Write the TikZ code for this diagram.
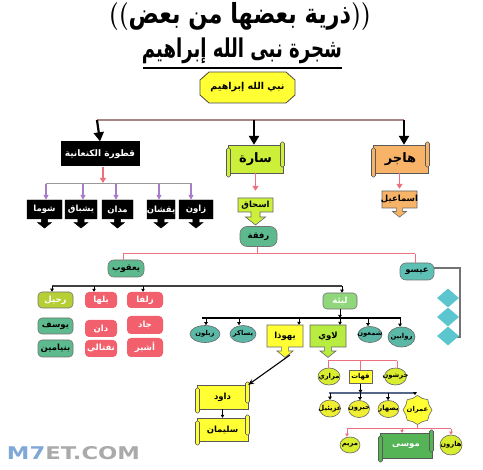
\documentclass[tikz,border=0pt]{standalone}
\usepackage{fontspec}
\usepackage{graphicx}
\usetikzlibrary{shapes.misc,shapes.geometric,arrows.meta,calc}
\TeXXeTstate=1
\newfontfamily\arabicfont[Script=Arabic]{DejaVu Sans}
\newfontfamily\wmfont{DejaVu Sans}
\newcommand{\artx}[1]{{\arabicfont\beginR #1\endR}}
\definecolor{ibyellow}{HTML}{FFFF33}
\definecolor{sarahg}{HTML}{CCF03A}
\definecolor{hagaro}{HTML}{F7B468}
\definecolor{tealg}{HTML}{5DB98E}
\definecolor{esaut}{HTML}{5EC0B5}
\definecolor{pinkb}{HTML}{F2606E}
\definecolor{rachelg}{HTML}{B5CF35}
\definecolor{leahg}{HTML}{8FD77A}
\definecolor{sonst}{HTML}{5BB8A6}
\definecolor{levig}{HTML}{B8EC40}
\definecolor{yelg}{HTML}{D8EC30}
\definecolor{yelb}{HTML}{EEEE33}
\definecolor{mosesg}{HTML}{55B455}
\definecolor{diam}{HTML}{5BC6CF}
\definecolor{pinkl}{HTML}{EE7080}
\definecolor{purp}{HTML}{A87CC8}
\definecolor{topbus}{HTML}{A88484}
\definecolor{kohbus}{HTML}{556688}
\newcommand{\calloutbox}[9]{%
 \draw[#6] (#2,#3) ++({-(#4)/2},{-(#5)/2}) -- ++(#4,0) -- ++(0,#5) -- ++({-(#4)/2+0.45*(#9)},0) -- ++(0,{0.5*(#9)}) -- ++({0.55*(#9)},0) -- ++({-(#9)},{0.8*(#9)}) -- ++({-(#9)},{-0.8*(#9)}) -- ++({0.55*(#9)},0) -- ++(0,{-0.5*(#9)}) -- ++({-(#4)/2+0.45*(#9)},0) -- cycle;
 \node[#7, minimum width=#4, minimum height=#5] (#1) at (#2,#3) {\artx{#8}};
}
\newcommand{\scrollbox}[8]{%
 \draw[scrollst, fill=#6] (#2,#3) ++({-(#4)/2},{-(#5)/2}) rectangle ++(#4,#5);
 \draw[scrollst, fill=#6, rounded corners=1.5pt] (#2,#3) ++({-(#4)/2-1.5},{-(#5)/2+3}) rectangle ++(4,{#5+1});
 \draw[scrollst, fill=#6, rounded corners=1.5pt] (#2,#3) ++({(#4)/2-2.5},{-(#5)/2-3}) rectangle ++(4,{#5-3});
 \node[#7, minimum width=#4, minimum height=#5] (#1) at (#2,#3) {\artx{#8}};
}
\newcommand{\ovalnode}[7]{% name,x,y,w,h,fill,text
 \node[ellipse, draw=black!60, line width=0.6, fill=#6, minimum width=#4, minimum height=#5, inner sep=0] (#1) at (#2,#3) {};
 \node[smalllab] (#1-t) at (#1.center) {\artx{#7}};
}
\newcommand{\dropto}[4]{% style, x, ybus, node
 \coordinate (tmpdrop) at (#2,#3);
 \draw[#1] (tmpdrop) -- (tmpdrop |- #4.north);
}
\tikzset{
 lab/.style={inner sep=0, font=\fontsize{8.5}{9}\selectfont\bfseries},
 smalllab/.style={inner sep=0, font=\fontsize{6.8}{8}\selectfont\bfseries},
 biglab/.style={inner sep=0, font=\fontsize{13}{14}\selectfont\bfseries},
 scrollst/.style={draw=black!65, line width=0.6},
 rbox/.style={lab, rounded corners=4pt, draw=black!55, line width=0.6},
 pinkbox/.style={lab, rounded corners=4pt, fill=pinkb, text=white},
 bigarrow/.style={line width=2.2, -{Triangle[width=10pt,length=9pt]}},
 pinkarrow/.style={pinkl, line width=1.6, -{Triangle[width=6pt,length=5pt]}},
 purparrow/.style={purp, line width=1.2, -{Triangle[width=5pt,length=5pt]}},
 pinkline/.style={pinkl, line width=1},
 smallarrow/.style={line width=0.7, -{Triangle[width=3.5pt,length=3pt]}},
 pinksmall/.style={pinkl, line width=1, -{Triangle[width=3.5pt,length=3pt]}},
}
\begin{document}
\begin{tikzpicture}[x=1pt,y=-1pt]
\useasboundingbox (0,0) rectangle (483,470);
\fill[white] (0,0) rectangle (483,470);
% titles
\node[inner sep=0] (t1) at (240,16.5) {\resizebox*{262pt}{28pt}{\fontsize{24}{24}\selectfont\bfseries((\artx{ذرية بعضها من بعض}))}};
\node[inner sep=0] (t2) at (242,51) {\resizebox*{200pt}{26pt}{\fontsize{22}{22}\selectfont\bfseries\artx{شجرة نبى الله إبراهيم}}};
\coordinate (ulL) at (143,68);
\coordinate (ulR) at (342,68);
\draw[line width=1.6] (ulL) -- (ulR);
% Ibrahim
\draw[draw=black!70, line width=0.8, fill=ibyellow] (209,72) -- (286,72) -- (295,80) -- (295,95) -- (286,103) -- (209,103) -- (200,95) -- (200,80) -- cycle;
\node[inner sep=0, minimum width=95, minimum height=31, font=\fontsize{9.5}{10}\selectfont\bfseries] (ibr) at (247.5,87.5) {\artx{نبي الله إبراهيم}};
% top bus
\coordinate (bk) at (97,120);
\coordinate (bs) at (254,120);
\coordinate (bh) at (404,120);
\draw[topbus, line width=1.3] (bk) -- (bh);
% wives
\node[lab, fill=black, text=white, minimum width=79, minimum height=25, font=\fontsize{9}{10}\selectfont\bfseries] (ket) at (100,154) {\artx{قطورة الكنعانية}};
\scrollbox{sarah}{255.5}{159}{55}{28}{sarahg}{biglab}{سارة}
\scrollbox{hagar}{400.5}{159}{55}{28}{hagaro}{biglab}{هاجر}
\draw[bigarrow] (bk) -- (ket.north);
\draw[bigarrow] (bs) -- (bs |- sarah.north);
\draw[bigarrow] (bh) -- (bh |- hagar.north);
% Keturah children
\coordinate (kb) at (103,183);
\coordinate (kL) at (46,184);
\coordinate (kR) at (192,184);
\draw[pinkarrow] (ket.south -| kb) -- (kb);
\draw[black!40, line width=1] (kL) -- (kR);
\calloutbox{k1}{44.5}{209.5}{35}{19}{fill=black}{lab, text=white}{شوما}{7}
\calloutbox{k2}{81}{209.5}{32}{19}{fill=black}{lab, text=white}{يشباق}{7}
\calloutbox{k3}{117.5}{209.5}{31}{19}{fill=black}{lab, text=white}{مدان}{7}
\calloutbox{k4}{161}{209.5}{28}{19}{fill=black}{lab, text=white}{يقشان}{7}
\calloutbox{k5}{196}{209.5}{34}{19}{fill=black}{lab, text=white}{زاون}{7}
\foreach \n/\xx in {k1/46,k2/83,k3/116,k4/159,k5/191}{
 \dropto{purparrow}{\xx}{184}{\n}
}
% Isaac, Ishmael
\calloutbox{isaac}{255.5}{205}{35}{14}{fill=sarahg, draw=black!60, line width=0.6}{lab}{اسحاق}{10}
\calloutbox{ishm}{399.5}{199.5}{35}{17}{fill=hagaro, draw=black!60, line width=0.6}{lab}{اسماعيل}{7}
\draw[pinkarrow, shorten >=7pt] (sarah.south) -- (isaac.north);
\draw[pinkarrow, shorten >=2pt] (hagar.south -| ishm.north) -- (ishm.north);
\node[rbox, fill=tealg, minimum width=37, minimum height=20, rounded corners=7pt] (reb) at (258.5,236.5) {\artx{رفقة}};
% Rebecca children
\coordinate (rb) at (257,254);
\coordinate (rbL) at (123,254);
\coordinate (rbR) at (415,254);
\draw[pinkline] (reb.south -| rb) -- (rb);
\draw[pinkline] (rbL) -- (rbR);
\node[rbox, fill=tealg, minimum width=36, minimum height=17, rounded corners=6pt] (jacob) at (126,268.5) {\artx{يعقوب}};
\node[rbox, fill=esaut, minimum width=34, minimum height=17, rounded corners=6pt] (esau) at (417,271.5) {\artx{عيسو}};
\draw[pinkline] (rbL) -- (rbL |- jacob.north);
\draw[pinkline] (rbR) -- (rbR |- esau.north);
% Esau bracket and diamonds
\coordinate (e1) at (460,268);
\coordinate (e2) at (460,337);
\coordinate (e3) at (452,337);
\draw[black!55, line width=1.3] (esau.east |- e1) -- (e1) -- (e2) -- (e3);
\foreach \yy [count=\i] in {298,317,336}{
 \node[diamond, fill=diam, minimum width=22, minimum height=19, inner sep=0, aspect=1.15] (d\i) at (448,\yy) {};
}
% Jacob wives
\coordinate (jL) at (52,286);
\coordinate (jR) at (342,286);
\draw[black!75, line width=1.1] (jL) -- (jR);
\node[rbox, fill=rachelg, text=white, minimum width=35, minimum height=16] (rachel) at (55.5,300) {\artx{رحيل}};
\node[pinkbox, minimum width=32, minimum height=16] (bilhah) at (101,300) {\artx{بلها}};
\node[pinkbox, minimum width=36, minimum height=16] (zilpah) at (145,300) {\artx{زلفا}};
\node[rbox, fill=tealg, minimum width=35, minimum height=16] (joseph) at (55.5,326) {\artx{يوسف}};
\node[rbox, fill=tealg, minimum width=35, minimum height=17] (benj) at (55.5,348.5) {\artx{بنيامين}};
\node[pinkbox, minimum width=32, minimum height=17] (dan) at (101,328.5) {\artx{دان}};
\node[pinkbox, minimum width=32, minimum height=17] (naph) at (101,348.5) {\artx{نفتالي}};
\node[pinkbox, minimum width=36, minimum height=18] (gad) at (145,325) {\artx{جاد}};
\node[pinkbox, minimum width=36, minimum height=19] (asher) at (145,347.5) {\artx{أشير}};
\node[rbox, fill=leahg, text=white, minimum width=34, minimum height=16] (leah) at (340,301) {\artx{ليئة}};
\foreach \n/\xx in {rachel/52,bilhah/94,zilpah/143,leah/342}{
 \dropto{smallarrow}{\xx}{286}{\n}
}
% Leah children
\coordinate (lL) at (202,318);
\coordinate (lR) at (401,318);
\draw[line width=2] (lL) -- (lR);
\draw[smallarrow] (leah.south) -- (leah.south |- lR);
\ovalnode{zeb}{205}{334}{30}{17}{sonst}{زبلون}
\ovalnode{iss}{243}{334}{26}{17}{sonst}{يساكر}
\calloutbox{judah}{285}{336}{36}{22}{fill=ibyellow, draw=black!60, line width=0.6}{lab}{يهوذا}{8}
\calloutbox{levi}{328}{336}{36}{22}{fill=levig, draw=black!60, line width=0.6}{lab}{لاوي}{8}
\ovalnode{sim}{370}{334.5}{24}{16}{sonst}{شمعون}
\ovalnode{reu}{401.5}{337}{27}{20}{sonst}{روابين}
\foreach \n/\xx in {zeb/206,iss/239,judah/299,levi/340,sim/368,reu/400}{
 \dropto{smallarrow}{\xx}{318}{\n}
}
% Judah line
\coordinate (jt) at (290,355);
\scrollbox{david}{222.5}{397}{51}{24}{ibyellow}{lab}{داود}
\scrollbox{solom}{222.5}{429.5}{51}{23}{ibyellow}{lab}{سليمان}
\draw[line width=1.1, -{Stealth[length=6pt,width=5pt]}] (jt) -- (david.north east);
\draw[smallarrow, line width=1.1] (david.south) -- (solom.north);
% Levi children
\coordinate (vL) at (328,361);
\coordinate (vR) at (397,361);
\draw[pinkline] (vL) -- (vR);
\ovalnode{merari}{329}{376.5}{22}{17}{yelg}{مراري}
\node[smalllab, rectangle, draw=black!60, line width=0.6, fill=ibyellow, minimum width=23, minimum height=13] (kohath) at (360.5,377) {\artx{قهات}};
\ovalnode{gersh}{395.5}{376.5}{22}{17}{yelg}{جرشون}
\draw[pinkline] (vL) -- (vL |- merari.north);
\draw[pinkline] (kohath.north |- vL) -- (kohath.north);
\draw[pinkline] (vR) -- (vR |- gersh.north);
% Kohath children
\coordinate (qL) at (329,393);
\coordinate (qR) at (415,393);
\draw[kohbus, line width=1.6] (qL) -- (qR);
\draw[smallarrow] (kohath.south) -- (kohath.south |- qL);
\ovalnode{uzz}{330}{408.5}{21}{17}{yelb}{عزيئيل}
\ovalnode{heb}{359}{409}{21}{17}{yelb}{حبرون}
\ovalnode{izh}{388.5}{409}{21}{17}{yelb}{يصهار}
\node[star, star points=8, star point ratio=1.15, draw=black!60, line width=0.6, fill=ibyellow, minimum size=29, inner sep=0] (amram) at (417.5,410) {};
\node[smalllab] (amram-t) at (amram.center) {\artx{عمران}};
\foreach \n/\xx in {uzz/330,heb/360,izh/388,amram/415}{
 \dropto{smallarrow}{\xx}{393}{\n}
}
% Amram children
\coordinate (aL) at (347,429);
\coordinate (aR) at (451,429);
\draw[pinkline] (aL) -- (aR);
\draw[pinkline] (amram.south) -- (amram.south |- aL);
\ovalnode{miriam}{350}{445}{20}{16}{yelg}{مريم}
\scrollbox{moses}{406}{445.5}{52}{25}{mosesg}{lab, text=white}{موسى}
\ovalnode{aaron}{451}{445}{22}{20}{yelg}{هارون}
\foreach \n/\xx in {miriam/347,moses/402,aaron/451}{
 \dropto{pinksmall}{\xx}{429}{\n}
}
% watermark
\node[inner sep=0] (wm) at (73.5,453.5) {\resizebox{133pt}{13pt}{\wmfont\bfseries\textcolor[HTML]{7FA8D8}{M7}\textcolor[HTML]{AAAAAA}{ET.COM}}};
\end{tikzpicture}
\end{document}
